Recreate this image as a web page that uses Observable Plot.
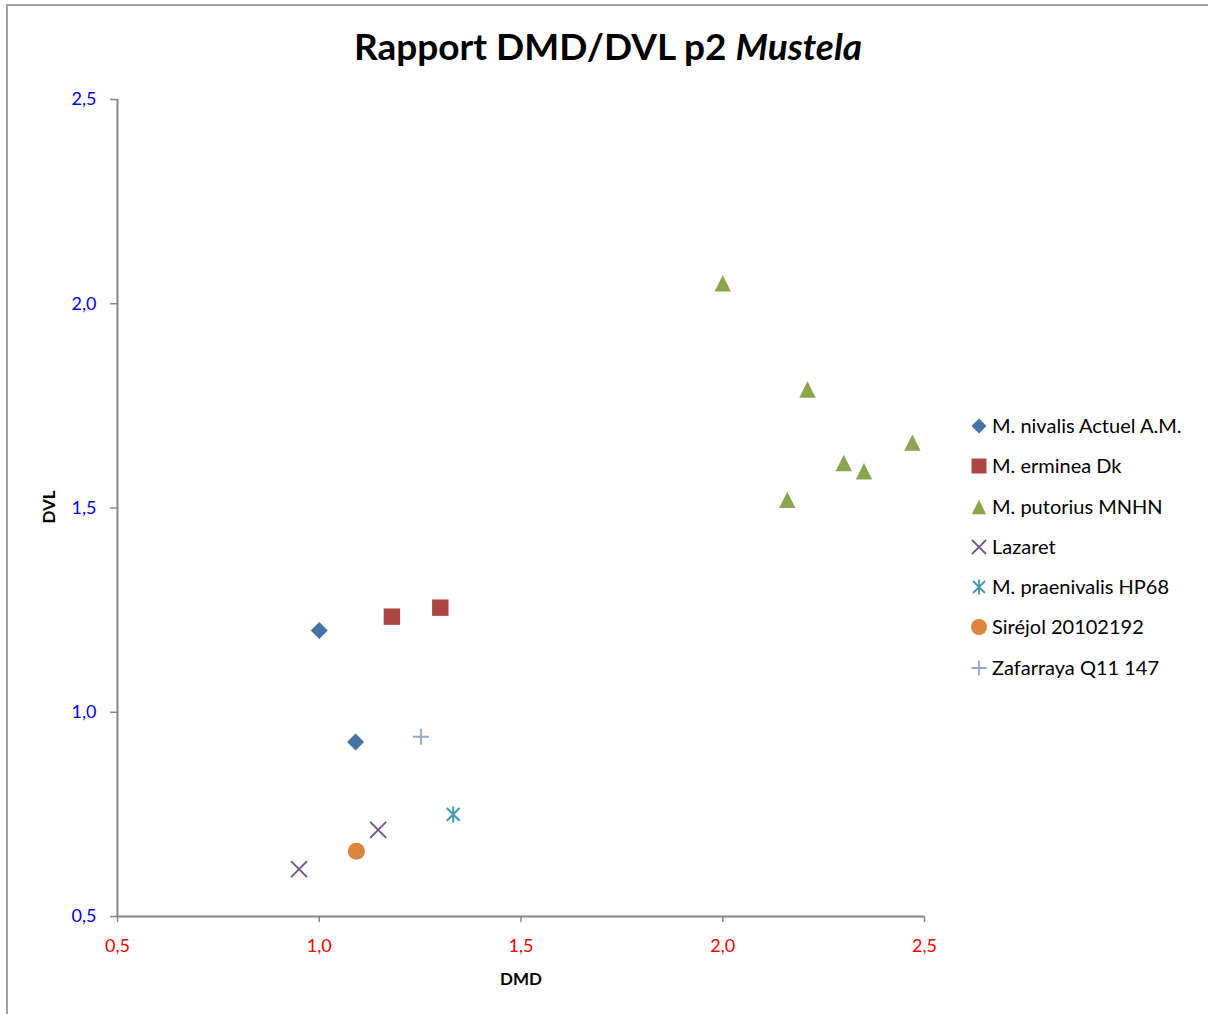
<!DOCTYPE html>
<html>
<head>
<meta charset="utf-8">
<script src="https://cdn.jsdelivr.net/npm/d3@7"></script>
<script src="https://cdn.jsdelivr.net/npm/@observablehq/plot@0.6"></script>
<style>
  html, body { margin: 0; padding: 0; background: #fff; overflow: hidden; }
  #wrap { position: relative; width: 1208px; height: 1014px; overflow: hidden; }
  #frame { position: absolute; left: 6px; top: 4px; width: 1400px; height: 1200px;
           border: 2px solid #a0a0a0; box-sizing: border-box; pointer-events: none; }
  svg text { font-family: Lato, "Open Sans", sans-serif; }
</style>
</head>
<body>
<div id="wrap"><div id="frame"></div></div>
<script>
// ---- data ----
const seriesNames = ["M. nivalis Actuel A.M.", "M. erminea Dk", "M. putorius MNHN", "Lazaret",
                     "M. praenivalis HP68", "Siréjol 20102192", "Zafarraya Q11 147"];
const nivalisDMD = [1.00, 1.09];
const nivalisDVL = [1.20, 0.927];
const ermineaDMD = [1.18, 1.30];
const ermineaDVL = [1.234, 1.256];
const putoriusDMD = [2.00, 2.21, 2.47, 2.30, 2.35, 2.16];
const putoriusDVL = [2.05, 1.79, 1.66, 1.61, 1.59, 1.52];
const lazaretDMD = [0.95, 1.146];
const lazaretDVL = [0.616, 0.712];
const praenivalisDMD = [1.332];
const praenivalisDVL = [0.75];
const sirejolDMD = [1.092];
const sirejolDVL = [0.66];
const zafarrayaDMD = [1.252];
const zafarrayaDVL = [0.94];
const xTicks = [0.5, 1.0, 1.5, 2.0, 2.5];
const yTicks = [0.5, 1.0, 1.5, 2.0, 2.5];
const titleMain = "Rapport DMD/DVL p2 ";
const titleItalic = "Mustela";
const xLabel = "DMD";
const yLabel = "DVL";

// ---- custom Excel-like symbols (size = pi*r^2 in Plot; r = half extent) ----
const rOf = size => Math.sqrt(size / Math.PI);
const symDiamond = { draw(c, s) { const r = rOf(s); c.moveTo(0, -r); c.lineTo(r, 0); c.lineTo(0, r); c.lineTo(-r, 0); c.closePath(); } };
const symSquare  = { draw(c, s) { const r = rOf(s); c.rect(-r, -r, 2 * r, 2 * r); } };
const symTriangle= { draw(c, s) { const r = rOf(s); c.moveTo(0, -r); c.lineTo(r, r); c.lineTo(-r, r); c.closePath(); } };
const symTimes   = { draw(c, s) { const r = rOf(s); c.moveTo(-r, -r); c.lineTo(r, r); c.moveTo(-r, r); c.lineTo(r, -r); } };
const symPlus    = { draw(c, s) { const r = rOf(s); c.moveTo(-r, 0); c.lineTo(r, 0); c.moveTo(0, -r); c.lineTo(0, r); } };
const symStar    = { draw(c, s) { const r = rOf(s); const d = r * 0.8; c.moveTo(0, -r); c.lineTo(0, r); c.moveTo(-d, -d); c.lineTo(d, d); c.moveTo(-d, d); c.lineTo(d, -d); } };
const symCircle  = { draw(c, s) { const r = rOf(s); c.moveTo(r, 0); c.arc(0, 0, r, 0, 2 * Math.PI); } };

const series = [
  { name: seriesNames[0], xs: nivalisDMD, ys: nivalisDVL, sym: symDiamond, color: "#4572A7", filled: true, r: 8.5, lr: 7.5 },
  { name: seriesNames[1], xs: ermineaDMD, ys: ermineaDVL, sym: symSquare, color: "#AA4643", filled: true, r: 8.2, lr: 7.5 },
  { name: seriesNames[2], xs: putoriusDMD, ys: putoriusDVL, sym: symTriangle, color: "#89A54E", filled: true, r: 8.2, lr: 7.2 },
  { name: seriesNames[3], xs: lazaretDMD, ys: lazaretDVL, sym: symTimes, color: "#71588F", filled: false, r: 8, lr: 7 },
  { name: seriesNames[4], xs: praenivalisDMD, ys: praenivalisDVL, sym: symStar, color: "#4198AF", filled: false, r: 8, lr: 7.5 },
  { name: seriesNames[5], xs: sirejolDMD, ys: sirejolDVL, sym: symCircle, color: "#DB843D", filled: true, r: 8.5, lr: 8 },
  { name: seriesNames[6], xs: zafarrayaDMD, ys: zafarrayaDVL, sym: symPlus, color: "#93A9CF", filled: false, r: 8, lr: 7.5 }
];

const fmt = d => d.toFixed(1).replace(".", ",");
const axisGray = "#868686";

const dotMarks = series.map(s => {
  const data = s.xs.map((x, i) => ({ x, y: s.ys[i] }));
  return Plot.dot(data, {
    x: "x", y: "y", symbol: s.sym, r: s.r,
    fill: s.filled ? s.color : "none",
    stroke: s.filled ? "none" : s.color,
    strokeWidth: s.filled ? 0 : 2
  });
});

const chart = Plot.plot({
  width: 1208, height: 1014,
  marginLeft: 117, marginRight: 284, marginTop: 99, marginBottom: 98,
  style: { fontFamily: "Lato, 'Open Sans', sans-serif", fontSize: "18px", background: "transparent", overflow: "visible" },
  x: { domain: [0.5, 2.5], label: null },
  y: { domain: [0.5, 2.5], label: null },
  marks: [
    Plot.axisX(xTicks, { anchor: "bottom", tickSize: 6, tickPadding: 17, stroke: axisGray, strokeWidth: 1.5, fill: "#FF0000", tickFormat: fmt, label: null }),
    Plot.axisY(yTicks, { anchor: "left", tickSize: 7, tickPadding: 14, stroke: axisGray, strokeWidth: 1.5, fill: "#0000FF", tickFormat: fmt, label: null }),
    Plot.ruleX([0.5], { stroke: axisGray, strokeWidth: 2 }),
    Plot.ruleY([0.5], { stroke: axisGray, strokeWidth: 2 }),
    ...dotMarks
  ]
});

const svg = d3.select(chart);
// title
const t = svg.append("text")
  .attr("x", 608).attr("y", 60).attr("text-anchor", "middle")
  .attr("font-size", 37).attr("font-weight", "bold").attr("fill", "#000");
t.append("tspan").text(titleMain);
t.append("tspan").attr("font-style", "italic").text(titleItalic);
// axis labels
svg.append("text").attr("x", 521).attr("y", 985).attr("text-anchor", "middle")
  .attr("font-size", 17).attr("font-weight", "bold").attr("fill", "#000").text(xLabel);
svg.append("text").attr("transform", "translate(55,507) rotate(-90)").attr("text-anchor", "middle")
  .attr("font-size", 17).attr("font-weight", "bold").attr("fill", "#000").text(yLabel);
// legend
const rowY = [426, 466, 507, 547, 587, 627, 668];
const lg = svg.append("g").attr("text-anchor", "start");
series.forEach((s, i) => {
  const size = Math.PI * s.lr * s.lr;
  lg.append("path")
    .attr("transform", `translate(979,${rowY[i]})`)
    .attr("d", d3.symbol(s.sym, size)())
    .attr("fill", s.filled ? s.color : "none")
    .attr("stroke", s.filled ? "none" : s.color)
    .attr("stroke-width", s.filled ? 0 : 1.8);
  lg.append("text").attr("x", 992).attr("y", rowY[i]).attr("dy", "0.36em")
    .attr("text-anchor", "start")
    .attr("font-size", 20).attr("fill", "#000").text(s.name);
});

const wrap = document.getElementById("wrap");
chart.style.position = "absolute";
chart.style.left = "0";
chart.style.top = "0";
wrap.insertBefore(chart, wrap.firstChild);
</script>
</body>
</html>
